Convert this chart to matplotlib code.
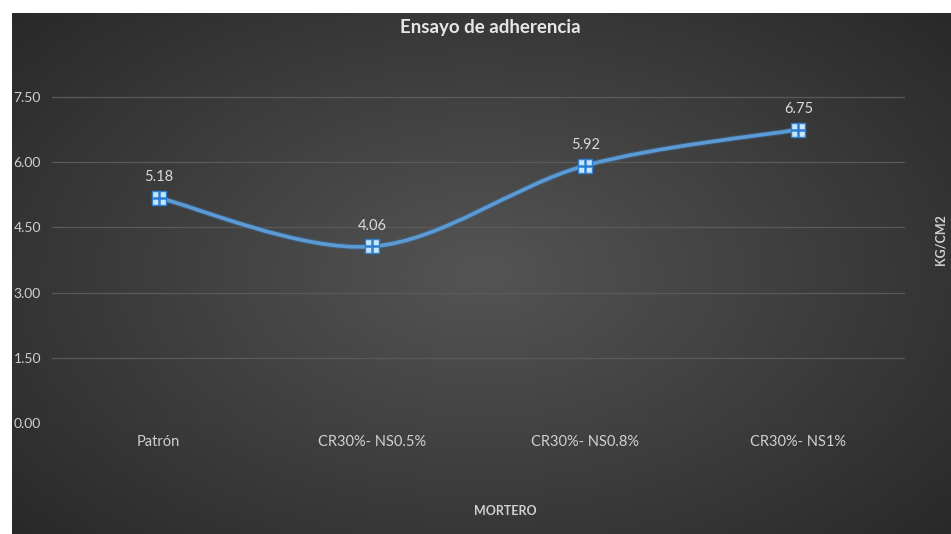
import numpy as np
import matplotlib
matplotlib.use("Agg")
import matplotlib.pyplot as plt
from matplotlib.path import Path
from matplotlib.patches import PathPatch

# datos del ensayo
categorias = ["Patrón", "CR30%- NS0.5%", "CR30%- NS0.8%", "CR30%- NS1%"]
valores = [5.18, 4.06, 5.92, 6.75]
etiquetas_y = [0.0, 1.5, 3.0, 4.5, 6.0, 7.5]

plt.rcParams['font.family'] = ['Lato', 'DejaVu Sans']

W, H = 951, 534
fig = plt.figure(figsize=(W / 100, H / 100), dpi=100, facecolor="white")

# fondo oscuro con degradado radial (como Excel)
bg = fig.add_axes([12 / W, 0, 1 - 12 / W, 1 - 13 / H])
gx, gy = np.meshgrid(np.linspace(-1, 1, 400), np.linspace(-1, 1, 240))
r = np.clip(np.sqrt(gx ** 2 + (gy * 0.9) ** 2) / 1.35, 0, 1)
c0 = np.array([0.33, 0.33, 0.33])
c1 = np.array([0.16, 0.16, 0.16])
img = c0[None, None, :] * (1 - r[..., None]) + c1[None, None, :] * r[..., None]
bg.imshow(img, aspect="auto", extent=[0, 1, 0, 1])
bg.set_axis_off()

ax = fig.add_axes([52 / W, 1 - 423 / H, (905 - 52) / W, (423 - 60) / H])
ax.set_facecolor("none")
ax.set_xlim(-0.5, 3.5)
ax.set_ylim(0, 8.35)

for sp in ax.spines.values():
    sp.set_visible(False)
ax.set_yticks(etiquetas_y)
ax.set_yticklabels([f"{v:.2f}" for v in etiquetas_y])
ax.set_xticks(range(len(categorias)))
ax.set_xticklabels(categorias)
ax.tick_params(axis="y", length=0, pad=8, labelsize=10, labelcolor="#d0d0d0")
ax.tick_params(axis="x", length=0, pad=9, labelsize=10.5, labelcolor="#d0d0d0")
ax.grid(axis="y", color="#5a5a5a", lw=0.9)
ax.set_axisbelow(True)

# linea suavizada con curvas de Bezier (suavizado tipo Excel)
x = np.arange(len(valores), dtype=float)
y = np.array(valores, dtype=float)
px = np.concatenate([[x[0]], x, [x[-1]]])
py = np.concatenate([[y[0]], y, [y[-1]]])
verts = [(x[0], y[0])]
codes = [Path.MOVETO]
for i in range(len(x) - 1):
    j = i + 1
    c1 = (px[j] + (px[j + 1] - px[j - 1]) / 6, py[j] + (py[j + 1] - py[j - 1]) / 6)
    c2 = (px[j + 1] - (px[j + 2] - px[j]) / 6, py[j + 1] - (py[j + 2] - py[j]) / 6)
    verts += [c1, c2, (x[i + 1], y[i + 1])]
    codes += [Path.CURVE4] * 3
trazo = Path(verts, codes)
ax.add_patch(PathPatch(trazo, fill=False, ec="#3f6e9e", lw=4.2, alpha=0.5, capstyle="round"))
ax.add_patch(PathPatch(trazo, fill=False, ec="#5b9bd5", lw=2.6, capstyle="round"))

# marcadores
ax.plot(x, y, ls="none", marker="s", ms=10, mfc="#c5e6ff", mec="#2f7fd0", mew=1.0, zorder=4)
ax.plot(x, y, ls="none", marker="+", ms=10, mec="#2f7fd0", mew=1.8, zorder=5)

for xi, yi in zip(x, y):
    ax.annotate(f"{yi:.2f}", (xi, yi), xytext=(0, 15), textcoords="offset points",
                ha="center", va="center", fontsize=10.5, color="#d9d9d9")

fig.text(490 / W, 1 - 28 / H, "Ensayo de adherencia", ha="center", va="center",
         fontsize=13.5, fontweight="bold", color="#e6e6e6")
fig.text(505 / W, 1 - 511 / H, "MORTERO", ha="center", va="center",
         fontsize=9, fontweight="bold", color="#d0d0d0")
fig.text(940 / W, 1 - 240 / H, "KG/CM2", ha="center", va="center", rotation=90,
         fontsize=9, fontweight="bold", color="#d0d0d0")

fig.savefig("out.png", dpi=100, facecolor="white")
